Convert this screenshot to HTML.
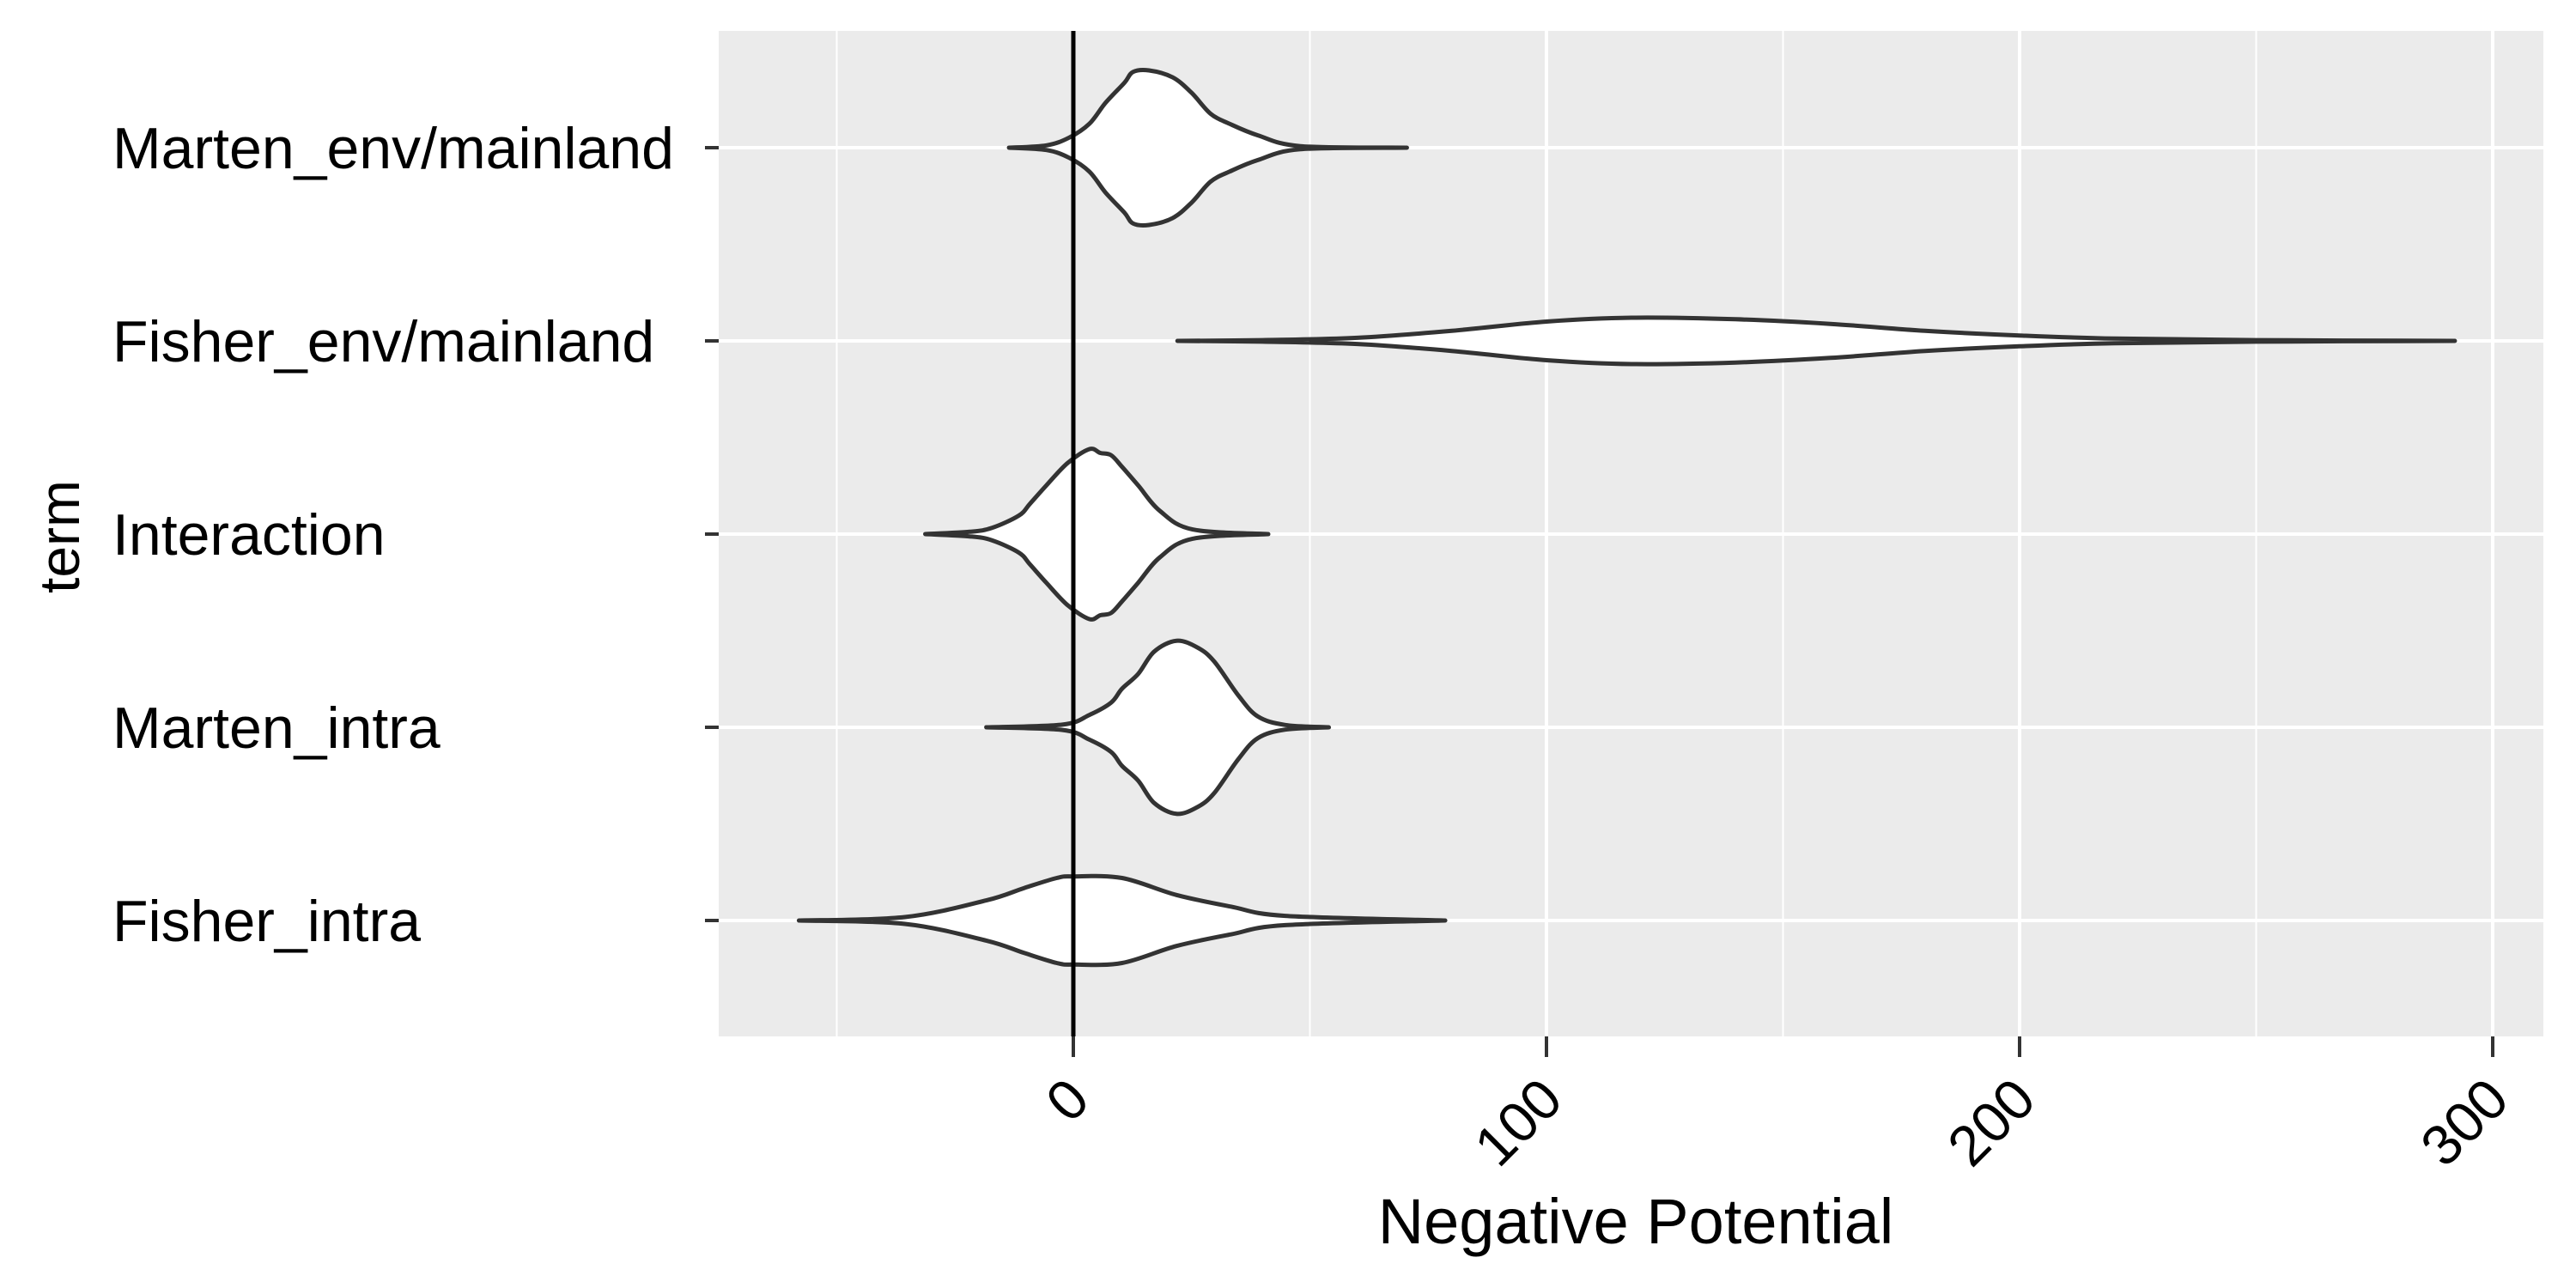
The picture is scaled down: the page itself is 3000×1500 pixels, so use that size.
<!DOCTYPE html>
<html><head><meta charset="utf-8"><style>
html,body{margin:0;padding:0;background:#fff;}
svg{display:block;font-family:"Liberation Sans",sans-serif;}
</style></head><body>
<svg id="chart" width="3000" height="1500" viewBox="0 0 3000 1500">
<rect x="837" y="36" width="2125" height="1171" fill="#EBEBEB"/>
<g id="grid"></g><g id="violins"></g><g id="axes"></g>
<text x="0" y="0" transform="translate(92,625) rotate(-90)" text-anchor="middle" font-size="66" fill="#000">term</text>
<text x="1905" y="1448" text-anchor="middle" font-size="74" fill="#000">Negative Potential</text>
</svg>
<script>
const categories = ["Marten_env/mainland","Fisher_env/mainland","Interaction","Marten_intra","Fisher_intra"];
const xTicks = [0,100,200,300];
const xMinor = [-50,50,150,250];
const mEnvX = [-13.6,-5.7,-0.9,3.4,6.8,10.8,12.6,16,21,25,29,33,39,48,70.5];
const mEnvD = [0,.03,.13,.31,.58,.84,.98,1,.91,.71,.44,.31,.16,.02,0];
const fEnvX = [22,40,60,80,100,118,140,160,180,200,220,250,292];
const fEnvD = [0,.01,.04,.13,.25,.3,.28,.22,.13,.07,.03,.01,0];
const interX = [-31.3,-21.9,-17.2,-11.5,-9.2,-5.7,-1.2,3.4,5.7,8,10.3,13.7,18.3,25.2,41.2];
const interD = [0,.03,.08,.24,.39,.63,.92,1.1,1.05,1.02,.87,.63,.3,.06,0];
const mIntraX = [-18.4,-2.3,3.4,8,10.3,13.7,17.1,21.8,26.3,29.8,34.9,39,44.8,54];
const mIntraD = [0,.035,.16,.32,.5,.69,.98,1.12,1.03,.85,.41,.14,.03,0];
const fIntraX = [-58,-35.6,-18.4,-10.4,-3.5,0,10.3,21.8,33.3,44.8,78.6];
const fIntraD = [0,.044,.26,.42,.55,.57,.55,.33,.18,.06,0];

const NS="http://www.w3.org/2000/svg";
const X0=1250, PXU=5.51;
const xs=v=>X0+v*PXU;
const ys=i=>172+i*225;
const ws=d=>d*90;
function mk(tag,attrs,parent){const e=document.createElementNS(NS,tag);for(const k in attrs)e.setAttribute(k,attrs[k]);parent.appendChild(e);return e;}
const grid=document.getElementById('grid'), vg=document.getElementById('violins'), ax=document.getElementById('axes');
xMinor.forEach(v=>{const l=mk('line',{x1:xs(v),x2:xs(v),y1:36,y2:1207,stroke:'#fff','stroke-width':2},grid);

});
xTicks.forEach(v=>{const l=mk('line',{x1:xs(v),x2:xs(v),y1:36,y2:1207,stroke:'#fff','stroke-width':4},grid);

});
categories.forEach((c,i)=>{const l=mk('line',{x1:837,x2:2962,y1:ys(i),y2:ys(i),stroke:'#fff','stroke-width':4},grid);


const t=mk('line',{x1:821,x2:837,y1:ys(i),y2:ys(i),stroke:'#333','stroke-width':4},ax);


const tx=mk('text',{x:131,y:ys(i)+24,'font-size':68,fill:'#000'},ax);
tx.textContent=c;

});
xTicks.forEach(v=>{const t=mk('line',{x1:xs(v),x2:xs(v),y1:1207,y2:1231,stroke:'#333','stroke-width':4},ax);


const tx=mk('text',{x:0,y:0,'font-size':66,fill:'#000','text-anchor':'end',transform:`translate(${xs(v)+22},${1284}) rotate(-45)`},ax);
tx.textContent=String(v);

});
function spline(pts){let d=`M${pts[0][0]},${pts[0][1]}`;for(let i=0;i<pts.length-1;i++){const p0=pts[Math.max(i-1,0)],p1=pts[i],p2=pts[i+1],p3=pts[Math.min(i+2,pts.length-1)];
const c1=[p1[0]+(p2[0]-p0[0])/6,p1[1]+(p2[1]-p0[1])/6],c2=[p2[0]-(p3[0]-p1[0])/6,p2[1]-(p3[1]-p1[1])/6];
d+=` C${c1[0]},${c1[1]} ${c2[0]},${c2[1]} ${p2[0]},${p2[1]}`;}return d;}
const series=[[mEnvX,mEnvD],[fEnvX,fEnvD],[interX,interD],[mIntraX,mIntraD],[fIntraX,fIntraD]];
series.forEach(([X,D],i)=>{const cy=ys(i);
const top=X.map((v,k)=>[xs(v),cy-ws(D[k])]);
const bot=X.map((v,k)=>[xs(v),cy+ws(D[k])]).reverse();
const d=spline(top)+' L'+spline(bot).slice(1)+' Z';
const p=mk('path',{d:d,fill:'#fff',stroke:'#333','stroke-width':5,'stroke-linejoin':'round'},vg);

});
const z=mk('line',{x1:xs(0),x2:xs(0),y1:36,y2:1207,stroke:'#000','stroke-width':5},vg);


</script>
</body></html>
